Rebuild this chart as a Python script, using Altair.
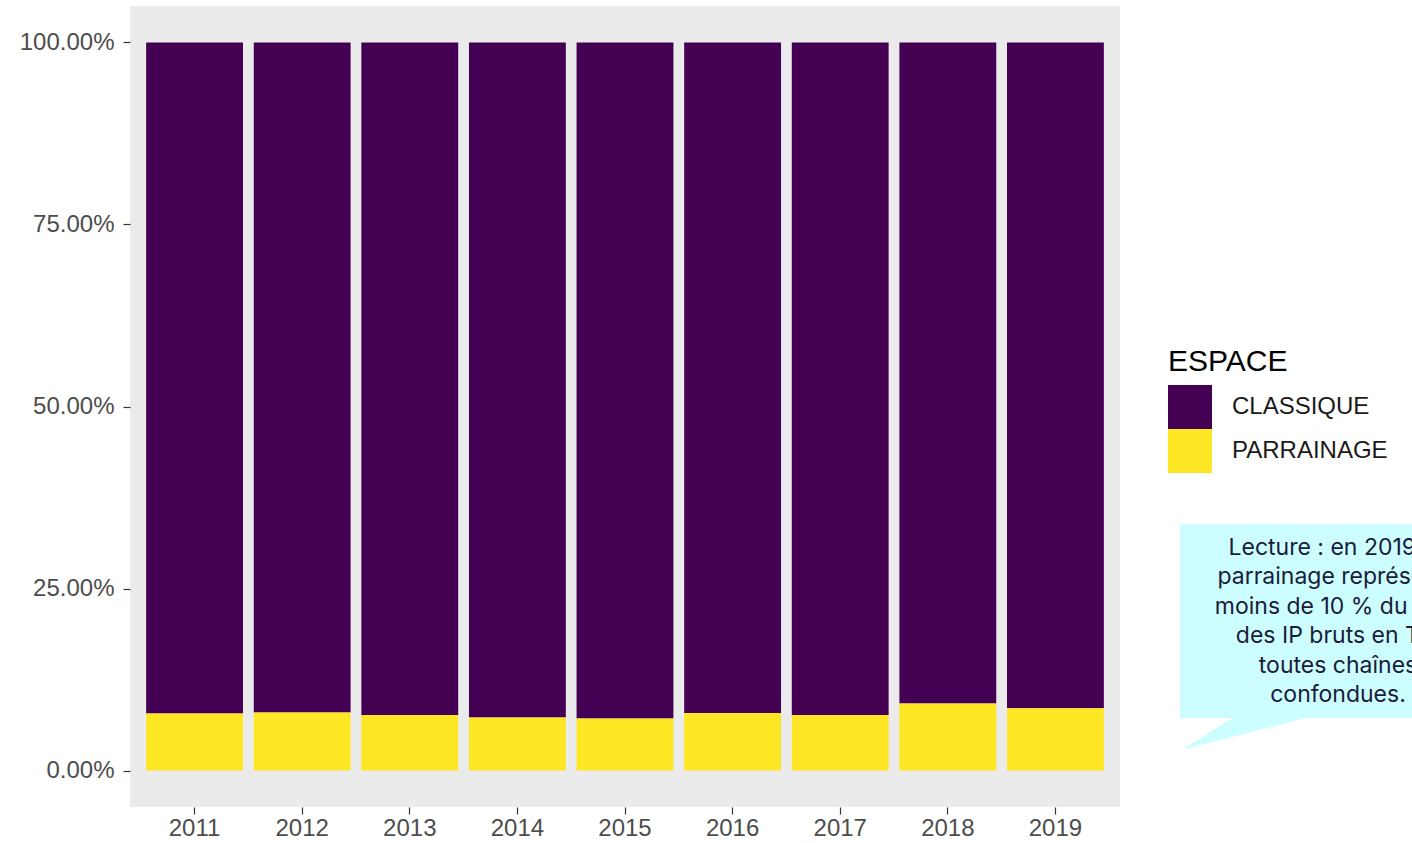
import altair as alt
import pandas as pd

# ---- data ----
years = ["2011", "2012", "2013", "2014", "2015", "2016", "2017", "2018", "2019"]
parrainage = [7.83, 7.97, 7.65, 7.28, 7.14, 7.92, 7.65, 9.20, 8.56]
classique = [100 - v for v in parrainage]
categories = ["CLASSIQUE", "PARRAINAGE"]
colors = ["#440154", "#FDE725"]
y_ticks = [0, 25, 50, 75, 100]
note_lines = [
    "Lecture : en 2019, le",
    "parrainage représente",
    "moins de 10 % du total",
    "des IP bruts en TV,",
    "toutes chaînes",
    "confondues.",
]

rows = []
for yr, c, p in zip(years, classique, parrainage):
    rows.append({"year": yr, "espace": "CLASSIQUE", "share": c, "ord": 1})
    rows.append({"year": yr, "espace": "PARRAINAGE", "share": p, "ord": 0})
df = pd.DataFrame(rows)

FONT = "Liberation Sans"

bars = alt.Chart(df).mark_bar().encode(
    x=alt.X(
        "year:N",
        scale=alt.Scale(paddingInner=0.1, paddingOuter=0.15),
        axis=alt.Axis(title=None, labelAngle=0, labelPadding=2),
    ),
    y=alt.Y(
        "share:Q",
        stack="zero",
        scale=alt.Scale(domain=[-5, 105], nice=False, zero=False),
        axis=alt.Axis(
            title=None,
            values=y_ticks,
            labelExpr="format(datum.value, '.2f') + '%'",
            grid=False,
            labelPadding=9,
        ),
    ),
    color=alt.Color(
        "espace:N",
        scale=alt.Scale(domain=categories, range=colors),
        legend=alt.Legend(
            title="ESPACE",
            orient="none",
            legendX=1038,
            legendY=341,
            titleFont=FONT,
            titleFontSize=30,
            titleFontWeight="normal",
            titleColor="#000000",
            titlePadding=8,
            labelFont=FONT,
            labelFontSize=24,
            labelColor="#1a1a1a",
            labelOffset=20,
            symbolType="square",
            symbolSize=1936,
            symbolStrokeWidth=0,
            symbolOpacity=1,
            rowPadding=0,
            padding=0,
        ),
    ),
    order=alt.Order("ord:Q", sort="ascending"),
)

one = pd.DataFrame({"k": [0]})
CYAN = "#CCFEFF"

box = alt.Chart(one).mark_rect(color=CYAN, opacity=1).encode(
    x=alt.value(1050), x2=alt.value(1320), y=alt.value(518), y2=alt.value(712)
)

tail = alt.Chart(one).mark_point(
    shape="M -1 0.244 L -0.191 -0.27 L 1 -0.27 Z",
    size=17161,
    filled=True,
    color=CYAN,
    opacity=1,
    strokeWidth=0,
).encode(x=alt.value(1117.5), y=alt.value(728))

note = alt.Chart(one).mark_text(
    align="center",
    baseline="alphabetic",
    lineBreak="\n",
    lineHeight=29.4,
    font="Inter",
    fontSize=23,
    color="#1B1B3A",
).encode(x=alt.value(1208), y=alt.value(549), text=alt.value("\n".join(note_lines)))

chart = (
    alt.layer(bars, box, tail, note)
    .properties(
        width=990,
        height=801,
        autosize=alt.AutoSizeParams(type="none"),
        padding={"left": 130, "top": 6, "right": 292, "bottom": 34},
        background="white",
    )
    .configure_view(fill="#EBEBEB", strokeWidth=0)
    .configure_axis(
        labelFont=FONT,
        labelFontSize=24,
        labelColor="#4D4D4D",
        tickColor="#333333",
        tickSize=7,
        tickWidth=1.2,
        domain=False,
    )
)

chart.save("out.html", embed_options={"renderer": "svg", "actions": False})
